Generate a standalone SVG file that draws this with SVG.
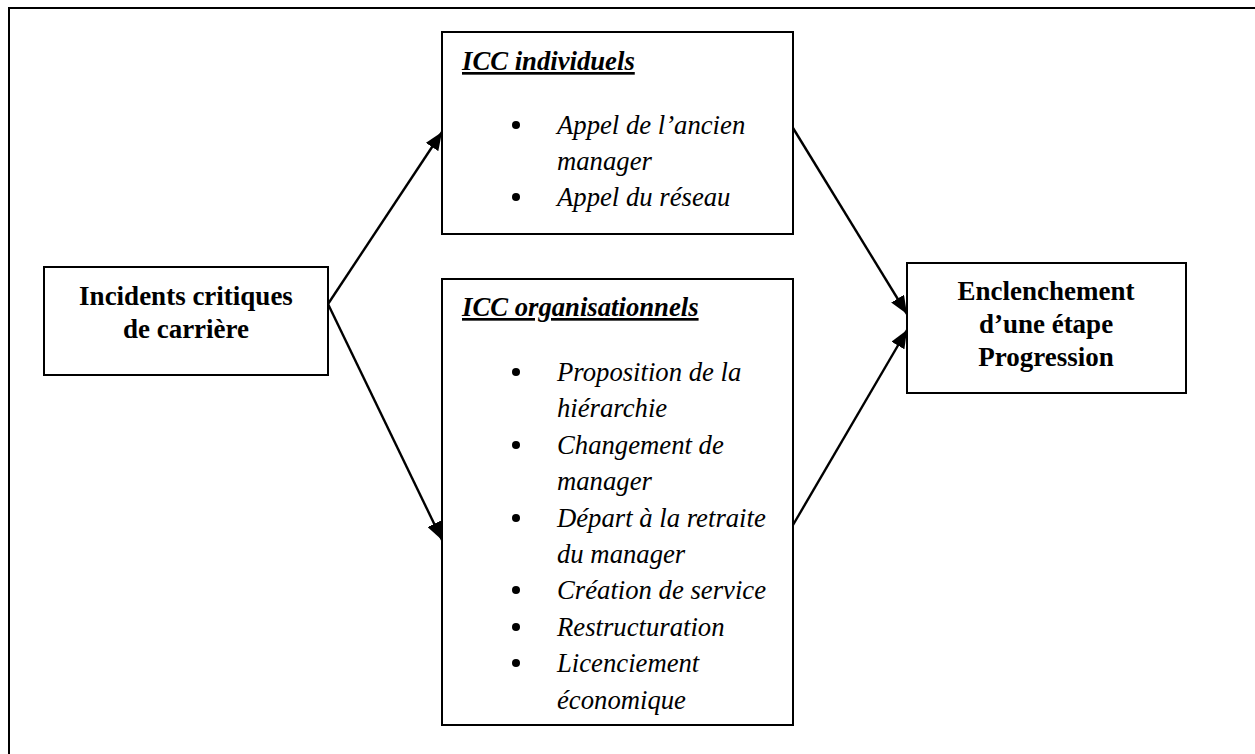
<svg xmlns="http://www.w3.org/2000/svg" width="1255" height="754" viewBox="0 0 1255 754">
<style>
.box{fill:#fff;stroke:#000;stroke-width:2}
.b{font-family:"Liberation Serif","Times New Roman",serif;font-weight:bold;font-size:27px;fill:#000;text-anchor:middle}
.t{font-family:"Liberation Serif","Times New Roman",serif;font-weight:bold;font-style:italic;font-size:26.7px;fill:#000;text-decoration:underline}
.i{font-family:"Liberation Serif","Times New Roman",serif;font-style:italic;font-size:26.7px;fill:#000}
.con{stroke:#000;stroke-width:2.4;fill:none;marker-end:url(#ah)}
</style>
<defs>
<marker id="ah" markerUnits="userSpaceOnUse" markerWidth="19" markerHeight="15" refX="18" refY="7.5" orient="auto">
<path d="M0,0 L18,7.5 L0,15 Z" fill="#000"/>
</marker>
</defs>
<rect x="0" y="0" width="1255" height="754" fill="#fff"/>
<rect x="9" y="8" width="1260" height="760" fill="none" stroke="#000" stroke-width="2"/>
<g id="connectors">
<line class="con" x1="328" y1="304" x2="442" y2="132"/>
<line class="con" x1="328" y1="304" x2="442" y2="540"/>
<line class="con" x1="793" y1="128" x2="907" y2="314"/>
<line class="con" x1="793" y1="525" x2="907" y2="330"/>
</g>
<g id="incidents">
<rect class="box" x="44" y="267" width="284" height="108"/>
<text class="b" x="186" y="305">Incidents critiques</text>
<text class="b" x="186" y="338">de carrière</text>
</g>
<g id="icc-individuels">
<rect class="box" x="442" y="32" width="351" height="202"/>
<text class="t" x="462" y="70">ICC individuels</text>
<circle cx="516" cy="125" r="4"/>
<text class="i" x="557" y="134">Appel de l’ancien</text>
<text class="i" x="557" y="170">manager</text>
<circle cx="516" cy="197" r="4"/>
<text class="i" x="557" y="206">Appel du réseau</text>
</g>
<g id="icc-organisationnels">
<rect class="box" x="442" y="279" width="351" height="446"/>
<text class="t" x="462" y="316">ICC organisationnels</text>
<circle cx="516" cy="372" r="4"/>
<text class="i" x="557" y="381">Proposition de la</text>
<text class="i" x="557" y="417">hiérarchie</text>
<circle cx="516" cy="445" r="4"/>
<text class="i" x="557" y="454">Changement de</text>
<text class="i" x="557" y="490">manager</text>
<circle cx="516" cy="518" r="4"/>
<text class="i" x="557" y="527">Départ à la retraite</text>
<text class="i" x="557" y="563">du manager</text>
<circle cx="516" cy="590" r="4"/>
<text class="i" x="557" y="599">Création de service</text>
<circle cx="516" cy="627" r="4"/>
<text class="i" x="557" y="636">Restructuration</text>
<circle cx="516" cy="663" r="4"/>
<text class="i" x="557" y="672">Licenciement</text>
<text class="i" x="557" y="709">économique</text>
</g>
<g id="enclenchement">
<rect class="box" x="907" y="263" width="279" height="130"/>
<text class="b" x="1046" y="300">Enclenchement</text>
<text class="b" x="1046" y="333">d’une étape</text>
<text class="b" x="1046" y="366">Progression</text>
</g>
</svg>
